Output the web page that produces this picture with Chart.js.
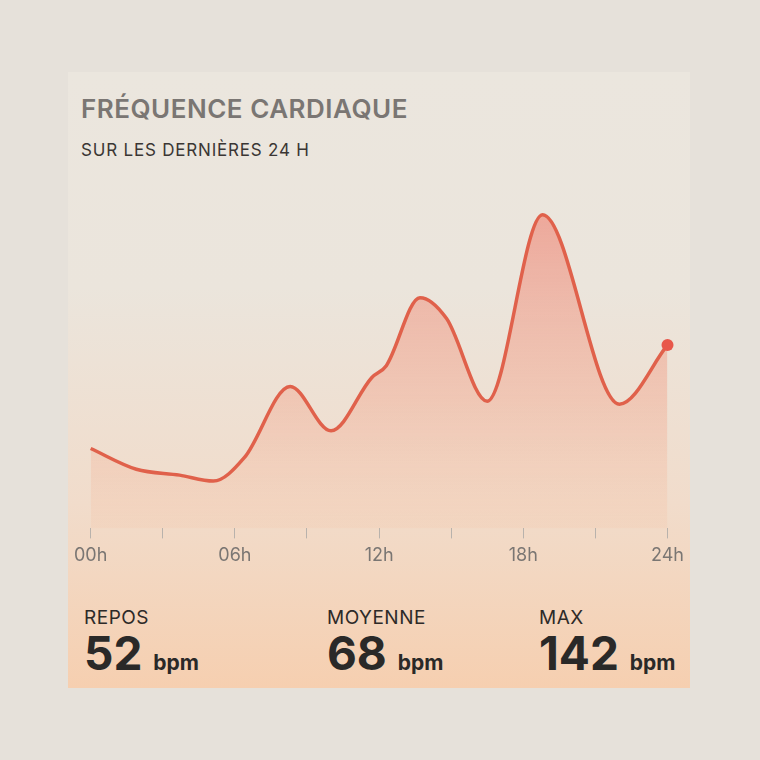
<!DOCTYPE html>
<html><head><meta charset="utf-8">
<script src="https://cdn.jsdelivr.net/npm/chart.js@4"></script>
<style>
html,body{margin:0;width:760px;height:760px;background:#e6e1da;font-family:Inter,"Noto Sans",sans-serif;overflow:hidden}
#card{position:absolute;left:68px;top:72px;width:622px;height:616px;background:linear-gradient(180deg,#ebe6de 0%,#ebe5dc 35%,#f1dccb 70%,#f6cfb0 100%)}
.t1{position:absolute;left:13px;top:21px;font-size:26px;font-weight:600;color:#7a7673;letter-spacing:0.5px}
.t2{position:absolute;left:13px;top:68px;font-size:17px;color:#3a3634;letter-spacing:0.8px}
#cw{position:absolute;left:0;top:118px;width:622px;height:382px}
.st{position:absolute;top:534px}
.st .l{font-size:19px;color:#2d2a28;letter-spacing:0.5px}
.st .v{font-size:46px;font-weight:700;color:#2a2928;margin-top:-4px}
.st .v span{font-size:21px;font-weight:700}
</style></head><body>
<div id="card">
<div class="t1">FRÉQUENCE CARDIAQUE</div>
<div class="t2">SUR LES DERNIÈRES 24 H</div>
<div id="cw"><canvas id="c"></canvas></div>
<div class="st" style="left:16px"><div class="l">REPOS</div><div class="v">52 <span>bpm</span></div></div>
<div class="st" style="left:259px"><div class="l">MOYENNE</div><div class="v">68 <span>bpm</span></div></div>
<div class="st" style="left:471px"><div class="l">MAX</div><div class="v">142 <span>bpm</span></div></div>
</div>
<script>
const hours=[0,1.9,3.7,5.1,6.4,8.3,10.0,11.7,12.3,13.7,14.8,16.5,18.8,22.0,24];
const bpm=[63,56,54,52,60,84,69,87,91,114,107,79,142,78,98];
const tickLabels={0:"00h",6:"06h",12:"12h",18:"18h",24:"24h"};
const ctx=document.getElementById('c');
new Chart(ctx,{type:'line',
data:{datasets:[{data:hours.map((h,i)=>({x:h,y:bpm[i]})),clip:false,
borderColor:'#e0614b',borderWidth:3.5,tension:0.4,cubicInterpolationMode:'monotone',
pointRadius:hours.map((h,i)=>i===hours.length-1?6:0),pointBackgroundColor:'#e8574a',pointBorderWidth:0,
fill:'origin',
backgroundColor:(c)=>{const a=c.chart.chartArea;if(!a)return 'rgba(240,150,130,0.4)';
const g=c.chart.ctx.createLinearGradient(0,a.top,0,a.bottom);
g.addColorStop(0,'rgba(238,130,115,0.65)');g.addColorStop(0.6,'rgba(242,160,135,0.4)');g.addColorStop(1,'rgba(246,200,170,0.25)');return g;}}]},
options:{responsive:true,maintainAspectRatio:false,animation:false,
layout:{padding:{left:0,right:0,top:10,bottom:0}},
plugins:{legend:{display:false},tooltip:{enabled:false}},
scales:{x:{type:'linear',min:0,max:24,border:{display:false},
grid:{drawOnChartArea:false,drawTicks:true,tickLength:10,color:'#b8b2ac',tickWidth:1},
ticks:{stepSize:3,autoSkip:false,maxRotation:0,color:'#7a7673',font:{size:18,family:'Inter'},padding:6,callback:v=>tickLabels[v]||''}},
y:{display:false,min:36,max:147}}}});
</script></body></html>
